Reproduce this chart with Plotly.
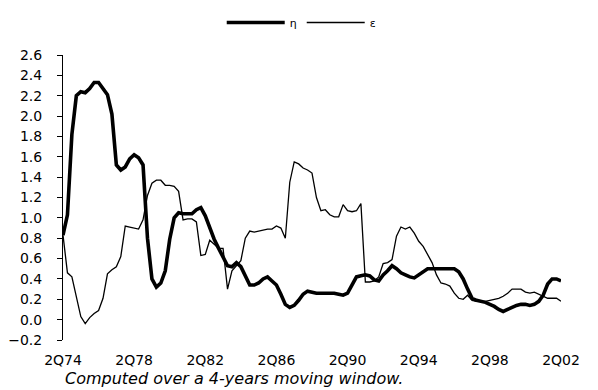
import plotly.graph_objects as go

# Quarterly categories 2Q74 .. 2Q02
quarters = [f"{(q + 1) % 4 + 1}Q{(74 + (q + 1) // 4) % 100:02d}" for q in range(113)]

tick_labels = ["2Q74", "2Q78", "2Q82", "2Q86", "2Q90", "2Q94", "2Q98", "2Q02"]

eta = [
    0.83, 1.03, 1.82, 2.20, 2.24, 2.23, 2.27, 2.33, 2.33, 2.27,
    2.21, 2.02, 1.52, 1.47, 1.50, 1.58, 1.62, 1.59, 1.52, 0.80,
    0.40, 0.32, 0.36, 0.48, 0.79, 1.00, 1.05, 1.04, 1.04, 1.04,
    1.08, 1.10, 1.02, 0.90, 0.79, 0.70, 0.62, 0.53, 0.52, 0.56,
    0.52, 0.42, 0.34, 0.34, 0.36, 0.40, 0.42, 0.38, 0.34, 0.25,
    0.15, 0.12, 0.14, 0.19, 0.25, 0.28, 0.27, 0.26, 0.26, 0.26,
    0.26, 0.26, 0.25, 0.24, 0.26, 0.35, 0.42, 0.43, 0.44, 0.43,
    0.39, 0.38, 0.44, 0.48, 0.53, 0.50, 0.46, 0.44, 0.42, 0.41,
    0.44, 0.47, 0.50, 0.50, 0.50, 0.50, 0.50, 0.50, 0.50, 0.47,
    0.40, 0.30, 0.21, 0.19, 0.18, 0.17, 0.15, 0.13, 0.10, 0.08,
    0.10, 0.12, 0.14, 0.15, 0.15, 0.14, 0.15, 0.18, 0.24, 0.35,
    0.40, 0.40, 0.38,
]

epsilon = [
    0.83, 0.46, 0.42, 0.24, 0.03, -0.04, 0.02, 0.06, 0.09, 0.21,
    0.45, 0.49, 0.52, 0.62, 0.92, 0.91, 0.90, 0.89, 0.98, 1.22,
    1.34, 1.37, 1.37, 1.32, 1.32, 1.31, 1.26, 0.98, 0.99, 0.99,
    0.96, 0.63, 0.64, 0.78, 0.74, 0.70, 0.70, 0.30, 0.48, 0.53,
    0.58, 0.80, 0.87, 0.86, 0.87, 0.88, 0.89, 0.89, 0.92, 0.90,
    0.80, 1.35, 1.55, 1.53, 1.49, 1.47, 1.44, 1.20, 1.07, 1.08,
    1.03, 1.01, 1.01, 1.13, 1.07, 1.06, 1.07, 1.14, 0.37, 0.37,
    0.38, 0.42, 0.55, 0.56, 0.59, 0.82, 0.91, 0.89, 0.91, 0.85,
    0.77, 0.72, 0.64, 0.56, 0.44, 0.36, 0.35, 0.33, 0.26, 0.21,
    0.20, 0.24, 0.19, 0.18, 0.18, 0.18, 0.19, 0.20, 0.21, 0.23,
    0.26, 0.30, 0.30, 0.30, 0.27, 0.26, 0.27, 0.25, 0.23, 0.21,
    0.21, 0.21, 0.18,
]

caption = "Computed over a 4-years moving window."

fig = go.Figure()
fig.add_trace(go.Scatter(x=quarters, y=eta, mode="lines", name="η",
                         line=dict(color="black", width=3.6)))
fig.add_trace(go.Scatter(x=quarters, y=epsilon, mode="lines", name="ε",
                         line=dict(color="black", width=1.3)))

tick_idx = [quarters.index(t) for t in tick_labels]
y_lo, y_hi = -0.2, 2.6

# the page body adds an 8px offset; size the figure to fit the 598x390 window
fig.update_layout(
    width=590, height=382,
    margin=dict(l=55, r=37, t=47, b=50, autoexpand=False),
    paper_bgcolor="white", plot_bgcolor="white",
    font=dict(family="DejaVu Sans", size=12, color="black"),
    showlegend=True,
    legend=dict(orientation="h", x=0.497, xanchor="center", xref="container",
                y=1.0, yanchor="top", yref="container",
                itemwidth=58, font=dict(size=11, family="DejaVu Sans", color="black"),
                bgcolor="rgba(0,0,0,0)"),
    xaxis=dict(type="category", range=[0, len(quarters) - 1],
               tickvals=tick_labels, ticktext=tick_labels,
               showline=False, ticks="", showgrid=False, zeroline=False,
               ticklabelstandoff=10, automargin=False,
               tickfont=dict(size=14, family="DejaVu Sans", color="black")),
    xaxis2=dict(type="linear", overlaying="x", anchor="free",
                position=(0 - y_lo) / (y_hi - y_lo),
                range=[0, len(quarters) - 1], tickvals=tick_idx,
                showticklabels=False, ticks="outside", ticklen=5,
                tickcolor="black", showline=True, linecolor="black",
                linewidth=1, showgrid=False, zeroline=False, side="bottom",
                automargin=False),
    yaxis=dict(range=[y_lo, y_hi], dtick=0.2, tick0=0, tickformat=".1f",
               showline=True, linecolor="black", linewidth=1,
               ticks="outside", ticklen=5, tickcolor="black",
               showgrid=False, zeroline=False, ticklabelstandoff=12,
               automargin=False,
               tickfont=dict(size=14, family="DejaVu Sans", color="black")),
    annotations=[dict(text=caption, xref="paper", yref="paper",
                      x=(234 - 63) / 498, y=-38 / 285, xanchor="center",
                      yanchor="middle", showarrow=False,
                      font=dict(size=16, family="DejaVu Sans", style="italic",
                                color="black"))],
)

fig.write_html("out.html")
